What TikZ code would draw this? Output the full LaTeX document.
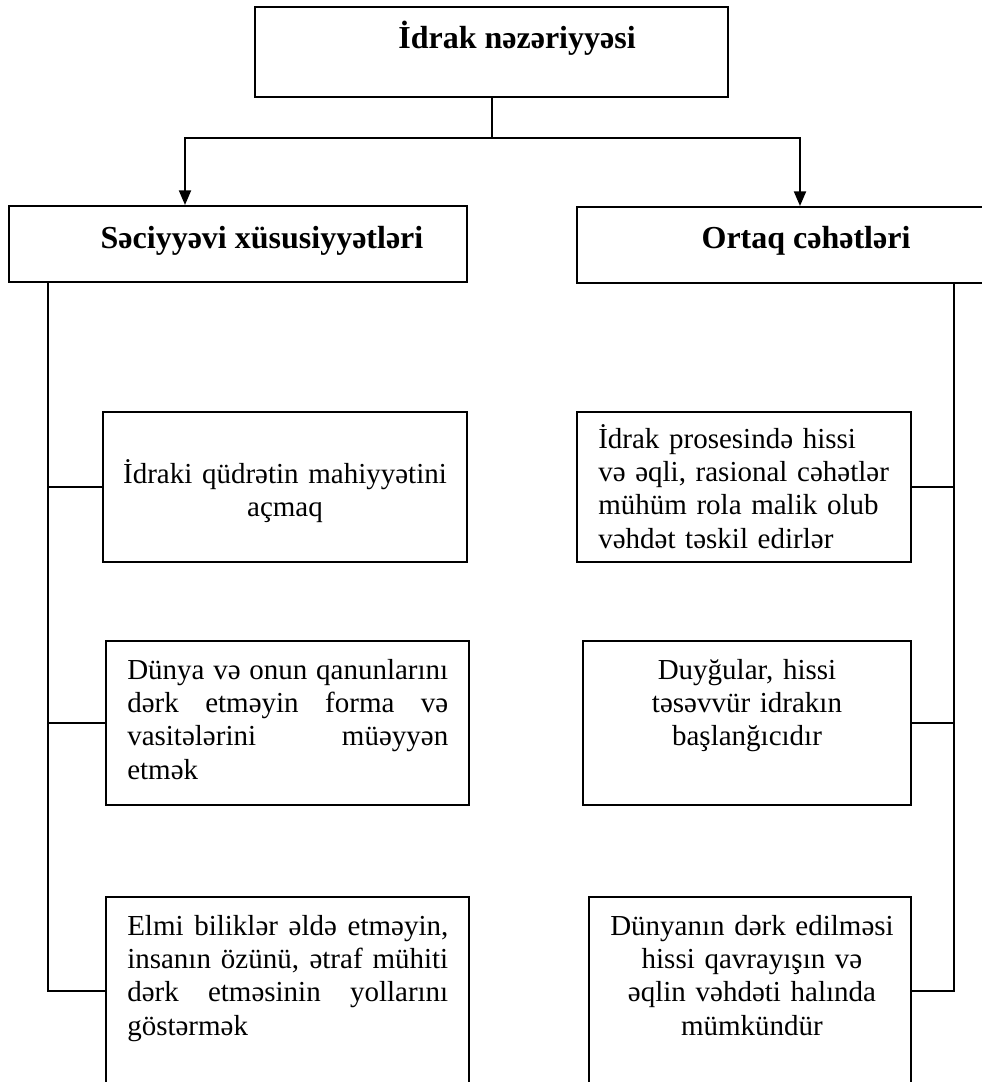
\documentclass[tikz,border=0pt]{standalone}
\usepackage{fontspec}
\setmainfont{Liberation Serif}
\usetikzlibrary{arrows.meta,fit,positioning}
\tikzset{
  box/.style={draw, line width=1.5pt, inner sep=0pt},
  txt/.style={inner sep=0pt, font=\fontsize{21.75}{25.1}\selectfont},
  hd/.style={inner sep=0pt, font=\bfseries\fontsize{24}{28}\selectfont},
  link/.style={line width=1.5pt},
  arr/.style={line width=1.5pt, -{Triangle[length=11pt,width=9pt]}}
}
\begin{document}
\begin{tikzpicture}[x=0.75pt,y=-0.75pt]
    \clip (0,0) rectangle (982,1082);

    % === Top: İdrak nəzəriyyəsi ===
    \node[box, fit={(255,7) (728,97)}] (top) {};
    \node[hd, anchor=base] (toptxt) at (517,48) {İdrak nəzəriyyəsi};

    % === Headings ===
    \node[box, fit={(9,206) (467,282)}] (sec) {};
    \node[hd, anchor=base] (sectxt) at (262,248) {Səciyyəvi xüsusiyyətləri};
    \node[box, fit={(577,207) (1023,283)}] (ort) {};
    \node[hd, anchor=base] (orttxt) at (806,248) {Ortaq cəhətləri};

    % arrows
    \draw[link] (top.south) -- ++(0,40) coordinate (split);
    \draw[arr] (split) -| ([xshift=-39.75pt]sec.north);
    \draw[arr] (split) -| (ort.north);

    % === Left column ===
    \node[box, fit={(103,412) (467,562)}] (l1) {};
    \node[txt, anchor=base, text width=260pt, align=center] (l1txt) at (285,483)
        {İdraki qüdrətin mahiyyətini\\açmaq};
    \node[box, fit={(106,641) (469,805)}] (l2) {};
    \node[txt, anchor=base west, text width=240.75pt, align=justify] (l2txt) at (127,679)
        {Dünya və onun qanunlarını\linebreak dərk etməyin forma və\linebreak vasitələrini müəyyən\linebreak etmək};
    \node[box, fit={(106,897) (469,1085)}] (l3) {};
    \node[txt, anchor=base west, text width=240.75pt, align=justify] (l3txt) at (127,935)
        {Elmi biliklər əldə etməyin,\linebreak insanın özünü, ətraf mühiti\linebreak dərk etməsinin yollarını\linebreak göstərmək};

    % left bus
    \coordinate (lbus) at (48,282);
    \draw[link] (lbus) |- (l3.west);
    \draw[link] (lbus |- l1.west) -- (l1.west);
    \draw[link] (lbus |- l2.west) -- (l2.west);

    % === Right column ===
    \node[box, fit={(577,412) (911,562)}] (r1) {};
    \node[txt, anchor=base west, text width=300pt, align=left] (r1txt) at (598,448)
        {İdrak prosesində hissi\\və əqli, rasional cəhətlər\\mühüm rola malik olub\\vəhdət təskil edirlər};
    \node[box, fit={(583,641) (911,805)}] (r2) {};
    \node[txt, anchor=base, text width=240pt, align=center] (r2txt) at (747,679)
        {Duyğular, hissi\\təsəvvür idrakın\\başlanğıcıdır};
    \node[box, fit={(589,897) (911,1085)}] (r3) {};
    \node[txt, anchor=base, text width=240pt, align=center] (r3txt) at (752,935)
        {Dünyanın dərk edilməsi\\hissi qavrayışın və\\əqlin vəhdəti halında\\mümkündür};

    % right bus
    \coordinate (rbus) at (954,283);
    \draw[link] (rbus) |- (r3.east);
    \draw[link] (rbus |- r1.east) -- (r1.east);
    \draw[link] (rbus |- r2.east) -- (r2.east);
\end{tikzpicture}
\end{document}
